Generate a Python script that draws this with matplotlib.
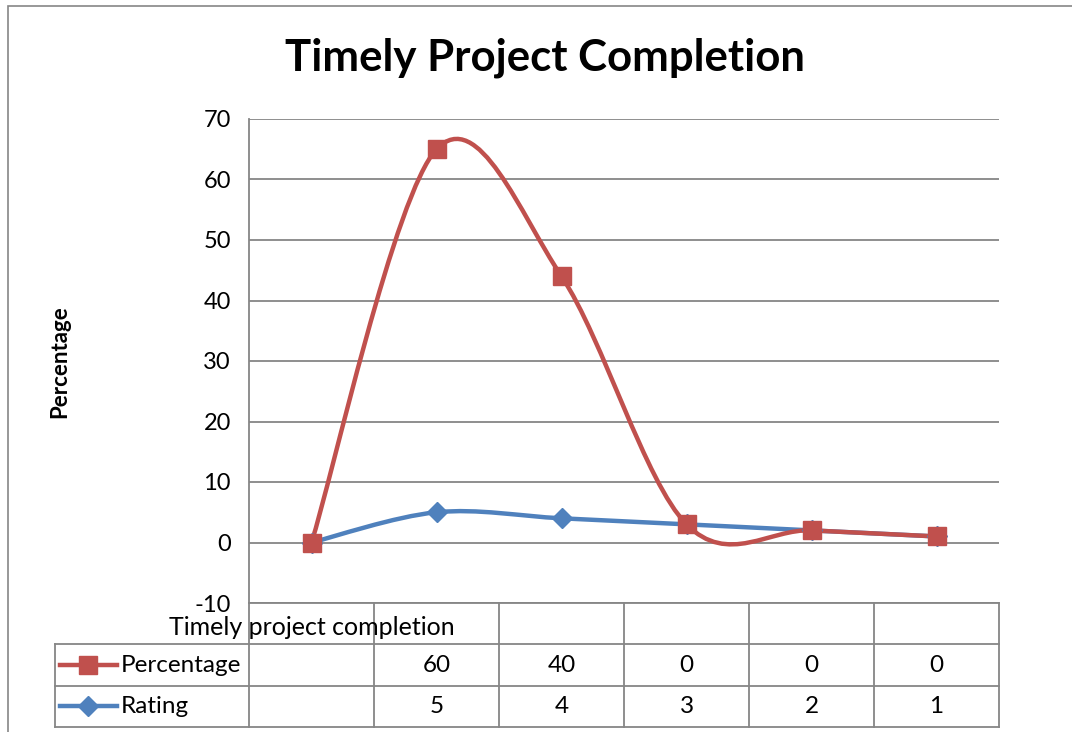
import numpy as np
import matplotlib
matplotlib.use('Agg')
from matplotlib import pyplot as plt
from matplotlib.path import Path
from matplotlib.patches import PathPatch, Rectangle
from matplotlib.lines import Line2D
from matplotlib.transforms import blended_transform_factory

plt.rcParams['font.family'] = ['Lato', 'DejaVu Sans']
plt.rcParams['axes.unicode_minus'] = False

# data (first category has blank values -> plotted as 0, stacked line chart)
categories = ['Timely project completion', '', '', '', '', '']
percentage = [None, 60, 40, 0, 0, 0]
rating = [None, 5, 4, 3, 2, 1]
series_names = ['Percentage', 'Rating']
yticks = [-10, 0, 10, 20, 30, 40, 50, 60, 70]

RED = '#C0504D'
BLUE = '#4F81BD'
GRID = '#868686'

W, H = 1072, 732


def rect(l, t, r, b):
    return [l / W, 1 - b / H, (r - l) / W, (b - t) / H]


def smooth_path(x, y):
    # Excel style smoothed line: cubic bezier with catmull-rom control points
    pts = np.column_stack([x, y]).astype(float)
    n = len(pts)
    verts = [pts[0]]
    codes = [Path.MOVETO]
    for i in range(n - 1):
        p0 = pts[max(i - 1, 0)]
        p1 = pts[i]
        p2 = pts[i + 1]
        p3 = pts[min(i + 2, n - 1)]
        verts += [p1 + (p2 - p0) / 6, p2 - (p3 - p1) / 6, p2]
        codes += [Path.CURVE4] * 3
    return Path(verts, codes)


x = np.arange(1, len(categories) + 1)
rat = np.array([0 if v is None else v for v in rating], dtype=float)
pct = np.array([0 if v is None else v for v in percentage], dtype=float)
pct_stacked = rat + pct

fig = plt.figure(figsize=(W / 100, H / 100), dpi=100)

# outer chart border
fig.patches.append(Rectangle((8 / W, -0.1), 1.2, 1 - 6 / H + 0.1, transform=fig.transFigure,
                             fill=False, edgecolor=GRID, lw=1.2))

ax = fig.add_axes(rect(249, 119, 999, 603))
ax.set_xlim(0.5, len(categories) + 0.5)
ax.set_ylim(-10, 70)
ax.set_yticks(yticks)
ax.set_xticks([])
for t in yticks:
    ax.axhline(t, color=GRID, lw=1.3, zorder=1)
for s in ['top', 'right', 'bottom']:
    ax.spines[s].set_visible(False)
ax.spines['left'].set_color(GRID)
ax.spines['left'].set_linewidth(1.3)
ax.tick_params(axis='y', length=0, pad=13, labelsize=17)

ax.add_patch(PathPatch(smooth_path(x, rat), facecolor='none', edgecolor=BLUE, lw=3.2,
                       capstyle='round', zorder=3))
ax.add_patch(PathPatch(smooth_path(x, pct_stacked), facecolor='none', edgecolor=RED, lw=3.2,
                       capstyle='round', zorder=4))
ax.plot(x, rat, linestyle='none', marker='D', markersize=10, color=BLUE, zorder=5, clip_on=False)
ax.plot(x, pct_stacked, linestyle='none', marker='s', markersize=13, color=RED, zorder=6, clip_on=False)

fig.text(545 / W, 1 - 58 / H, 'Timely Project Completion', ha='center', va='center',
         fontsize=31.5, fontweight='bold')
fig.text(60 / W, 1 - 362 / H, 'Percentage', ha='center', va='center', rotation=90,
         fontsize=16, fontweight='bold')

# data table
tax = fig.add_axes(rect(55, 603, 999, 727))
left = 0.5 - 194 / 125
tax.set_xlim(left, len(categories) + 0.5)
tax.set_ylim(3, 0)
tax.axis('off')
lk = dict(color=GRID, lw=1.3, clip_on=False)
tax.plot([0.5, len(categories) + 0.5], [0, 0], **lk)
for yy in [1, 2, 3]:
    tax.plot([left, len(categories) + 0.5], [yy, yy], **lk)
tax.plot([left, left], [1, 3], **lk)
for xx in np.arange(0.5, len(categories) + 1):
    tax.plot([xx, xx], [0, 3], **lk)

for i, c in enumerate(categories):
    tax.text(x[i], 0.6, c, ha='center', va='center', fontsize=18)
rows = [percentage, rating]
for r, vals in enumerate(rows):
    for i, v in enumerate(vals):
        if v is not None:
            tax.text(x[i], r + 1.5, str(v), ha='center', va='center', fontsize=17.5)

tr = blended_transform_factory(tax.transAxes, tax.transData)
for r, (name, col, mk, ms) in enumerate(zip(series_names, [RED, BLUE], ['s', 'D'], [13, 10])):
    yy = r + 1.5
    tax.add_line(Line2D([(60 - 55) / 944, (117 - 55) / 944], [yy, yy], color=col, lw=3.2,
                        transform=tr, clip_on=False))
    tax.add_line(Line2D([(88 - 55) / 944], [yy], marker=mk, markersize=ms, color=col,
                        transform=tr, clip_on=False))
    tax.text((121 - 55) / 944, yy, name, transform=tr, ha='left', va='center', fontsize=17.5)

fig.savefig('out.png', dpi=100)
